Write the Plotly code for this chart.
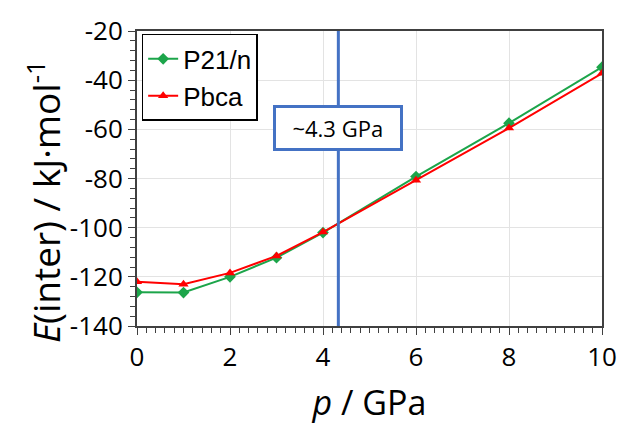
import plotly.graph_objects as go

pressure = [0, 1, 2, 3, 4, 6, 8, 10]
p21n = [-126.3, -126.4, -120.0, -112.2, -102.0, -79.2, -57.5, -34.7]
pbca = [-122.0, -123.0, -118.4, -111.5, -101.8, -80.7, -59.5, -37.2]
transition_p = 4.33
transition_label = "~4.3 GPa"
x_tick_vals = [0, 2, 4, 6, 8, 10]
x_tick_text = ["0", "2", "4", "6", "8", "10"]
y_tick_vals = [-140, -120, -100, -80, -60, -40, -20]
y_tick_text = ["-140", "-120", "-100", "-80", "-60", "-40", "-20"]

fig = go.Figure()
fig.add_trace(go.Scatter(x=pressure, y=p21n, mode="lines+markers", name="P21/n",
                         line=dict(color="#1CA54A", width=2),
                         marker=dict(symbol="diamond", size=9, color="#1CA54A")))
fig.add_trace(go.Scatter(x=pressure, y=pbca, mode="lines+markers", name="Pbca",
                         line=dict(color="#FF0000", width=2),
                         marker=dict(symbol="triangle-up", size=9, color="#FF0000")))

fig.add_shape(type="line", xref="x", yref="paper", x0=transition_p, x1=transition_p,
              y0=0, y1=1, line=dict(color="#4472C4", width=3), layer="above")
fig.add_annotation(x=transition_p, y=-59.5, xref="x", yref="y",
                   text="&nbsp;&nbsp;" + transition_label + "&nbsp;&nbsp;",
                   showarrow=False, font=dict(family="Open Sans", size=22, color="black"),
                   bgcolor="white", bordercolor="#4472C4", borderwidth=3, borderpad=5)

axis_font = dict(family="Open Sans", size=26, color="black")
title_font = dict(family="Open Sans", size=34, color="black")

# y-axis title as a rotated annotation (positioned like the reference)
fig.add_annotation(x=-0.2, y=0.42, xref="paper", yref="paper",
                   text="<i>E</i>(inter) / kJ·mol<sup>-1</sup>", textangle=-90,
                   showarrow=False, font=dict(family="Open Sans", size=37, color="black"),
                   xanchor="center", yanchor="middle")

fig.update_layout(
    width=629, height=428,
    margin=dict(l=137, r=19, t=25, b=100),
    plot_bgcolor="white", paper_bgcolor="white",
    showlegend=True,
    legend=dict(x=0.01, y=0.99, xanchor="left", yanchor="top",
                bordercolor="black", borderwidth=1.5, bgcolor="white",
                font=dict(family="Liberation Sans", size=26, color="black"),
                itemwidth=30, tracegroupgap=0),
    xaxis=dict(range=[0, 10], tickvals=x_tick_vals, ticktext=x_tick_text, tickfont=axis_font,
               showgrid=True, gridcolor="#E3E3E3", gridwidth=1,
               showline=True, linecolor="#404040", linewidth=2, mirror=True,
               ticks="outside", ticklen=7, tickcolor="#404040",
               minor=dict(dtick=0.2, ticks="outside", ticklen=5, tickcolor="#404040", showgrid=False),
               title=dict(text="<i>p</i> / GPa", font=title_font, standoff=18),
               zeroline=False),
    yaxis=dict(range=[-140, -20], tickvals=y_tick_vals, ticktext=y_tick_text, tickfont=axis_font,
               showgrid=True, gridcolor="#E3E3E3", gridwidth=1,
               showline=True, linecolor="#404040", linewidth=2, mirror=True,
               ticks="outside", ticklen=7, tickcolor="#404040",
               minor=dict(dtick=4, ticks="outside", ticklen=5, tickcolor="#404040", showgrid=False),
               zeroline=False),
)

fig.write_html("out.html")
